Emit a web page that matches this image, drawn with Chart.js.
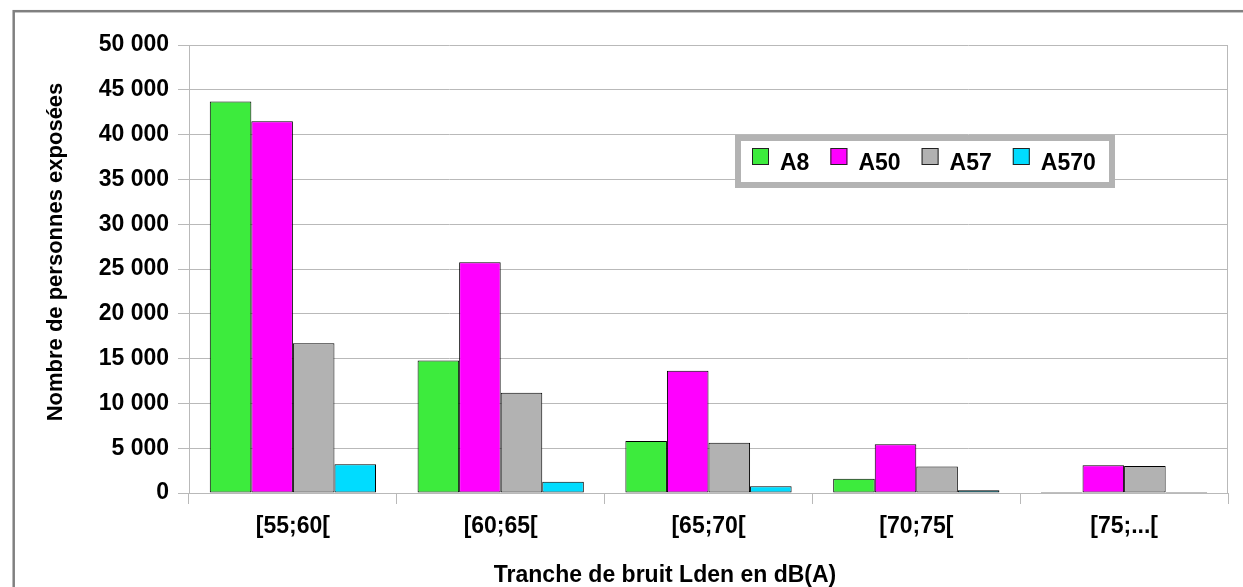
<!DOCTYPE html>
<html lang="fr">
<head>
<meta charset="utf-8">
<title>Population exposée au bruit par tranche Lden</title>
<script src="https://cdn.jsdelivr.net/npm/chart.js@4"></script>
<style>
  html, body { margin: 0; padding: 0; background: #ffffff; }
  #wrap { width: 1243px; height: 587px; }
  canvas { display: block; }
</style>
</head>
<body>
<div id="wrap"><canvas id="chart" width="1243" height="587"></canvas></div>
<script>
// Tranches de bruit (Lden, dB(A))
const categories = ['[55;60[', '[60;65[', '[65;70[', '[70;75[', '[75;...['];

// Nombre de personnes exposées, par axe routier
const seriesNames = ['A8', 'A50', 'A57', 'A570'];
const valuesA8   = [43700, 14800, 5800, 1600, 100];
const valuesA50  = [41500, 25750, 13650, 5450, 3100];
const valuesA57  = [16700, 11200, 5600, 2950, 3000];
const valuesA570 = [3200, 1250, 750, 300, 120];

// Graduations de l'axe vertical
const yTicks = [0, 5000, 10000, 15000, 20000, 25000, 30000, 35000, 40000, 45000, 50000];

const yTitle = 'Nombre de personnes exposées';
const xTitle = 'Tranche de bruit Lden en dB(A)';

const FONT = '"Liberation Sans", Arial, Helvetica, sans-serif';
const GRID = '#B9B9B9';
const colors = ['#3DEB3D', '#FF00FF', '#B2B2B2', '#00DCFF'];
const seriesValues = [valuesA8, valuesA50, valuesA57, valuesA570];

// Séparateur de milliers à la française : "45 000"
const fmt = v => String(v).replace(/\B(?=(\d{3})+(?!\d))/g, ' ');

// Cadre extérieur gris
const frame = {
  id: 'frame',
  beforeDraw(chart) {
    const ctx = chart.ctx;
    ctx.save();
    ctx.fillStyle = '#ffffff';
    ctx.fillRect(0, 0, chart.width, chart.height);
    ctx.strokeStyle = '#808080';
    ctx.lineWidth = 2.5;
    ctx.strokeRect(13.7, 11.2, chart.width + 20, chart.height + 20);
    ctx.restore();
  }
};

// Bord droit de la zone de tracé
const plotEdge = {
  id: 'plotEdge',
  beforeDatasetsDraw(chart) {
    const {ctx, chartArea} = chart;
    ctx.save();
    ctx.strokeStyle = GRID;
    ctx.lineWidth = 1;
    const x = Math.round(chartArea.right) - 0.5;
    ctx.beginPath();
    ctx.moveTo(x, chartArea.top);
    ctx.lineTo(x, chartArea.bottom);
    ctx.stroke();
    ctx.restore();
  }
};

// Titres des axes
const axisTitles = {
  id: 'axisTitles',
  afterDraw(chart) {
    const ctx = chart.ctx;
    ctx.save();
    ctx.fillStyle = '#000000';
    ctx.font = 'bold 22px ' + FONT;
    ctx.textAlign = 'center';
    ctx.textBaseline = 'middle';
    ctx.translate(56, 252);
    ctx.rotate(-Math.PI / 2);
    ctx.fillText(yTitle, 0, 0);
    ctx.restore();

    ctx.save();
    ctx.fillStyle = '#000000';
    ctx.font = 'bold 23px ' + FONT;
    ctx.textAlign = 'center';
    ctx.textBaseline = 'alphabetic';
    ctx.fillText(xTitle, 665, 582);
    ctx.restore();
  }
};

// Légende encadrée dans la zone de tracé
const boxedLegend = {
  id: 'boxedLegend',
  afterDraw(chart) {
    const ctx = chart.ctx;
    ctx.save();
    ctx.fillStyle = '#ffffff';
    ctx.fillRect(738, 138, 374, 47);
    ctx.strokeStyle = '#B3B3B3';
    ctx.lineWidth = 6;
    ctx.strokeRect(738, 138, 374, 47);

    ctx.font = 'bold 23px ' + FONT;
    ctx.textAlign = 'left';
    ctx.textBaseline = 'alphabetic';
    let x = 752;
    chart.data.datasets.forEach(ds => {
      ctx.fillStyle = ds.backgroundColor;
      ctx.fillRect(x, 148, 17, 17);
      ctx.strokeStyle = '#222222';
      ctx.lineWidth = 1;
      ctx.strokeRect(x + 0.5, 148.5, 16, 16);
      ctx.fillStyle = '#000000';
      const tx = x + 28;
      ctx.fillText(ds.label, tx, 170);
      x = tx + ctx.measureText(ds.label).width + 21;
    });
    ctx.restore();
  }
};

const datasets = seriesNames.map((name, i) => ({
  label: name,
  data: seriesValues[i],
  backgroundColor: colors[i],
  borderColor: '#000000',
  borderWidth: 1,
  borderSkipped: false,
  categoryPercentage: 0.8,
  barPercentage: 1.0
}));

const tickFont = { family: FONT, size: 23, weight: 'bold' };

new Chart(document.getElementById('chart'), {
  type: 'bar',
  data: { labels: categories, datasets },
  plugins: [frame, plotEdge, axisTitles, boxedLegend],
  options: {
    responsive: false,
    devicePixelRatio: 1,
    animation: false,
    events: [],
    layout: { padding: { top: 45, right: 15, bottom: 0, left: 0 } },
    plugins: {
      legend: { display: false },
      tooltip: { enabled: false },
      title: { display: false }
    },
    scales: {
      x: {
        offset: true,
        ticks: { color: '#000000', font: tickFont, padding: 9, maxRotation: 0, autoSkip: false },
        grid: { offset: true, drawOnChartArea: false, drawTicks: true, tickLength: 11, color: GRID, lineWidth: 1 },
        border: { display: true, color: GRID, width: 1 },
        afterFit(scale) { scale.height = 94; }
      },
      y: {
        min: yTicks[0],
        max: yTicks[yTicks.length - 1],
        afterBuildTicks(scale) { scale.ticks = yTicks.map(v => ({ value: v })); },
        ticks: { color: '#000000', font: tickFont, padding: 9, callback: v => fmt(v) },
        grid: { drawTicks: true, tickLength: 11, color: GRID, lineWidth: 1 },
        border: { display: true, color: GRID, width: 1 },
        afterFit(scale) { scale.width = 189; }
      }
    }
  }
});
</script>
</body>
</html>
